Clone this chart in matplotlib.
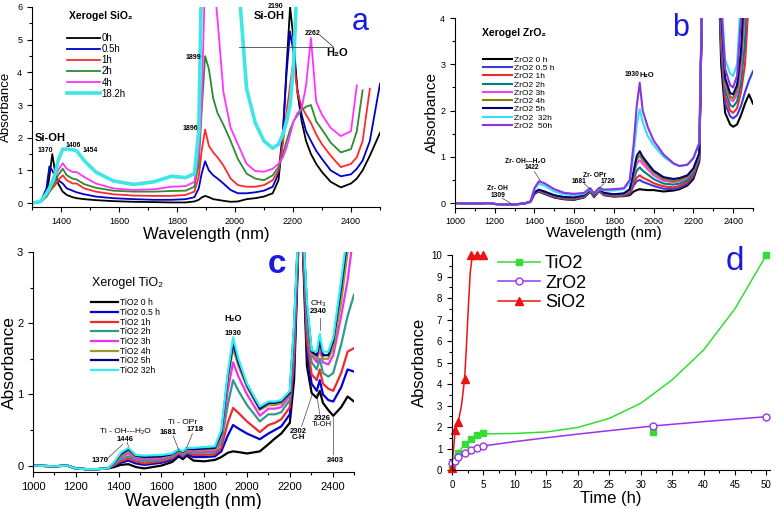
import numpy as np
import matplotlib
matplotlib.use('Agg')
import matplotlib.pyplot as plt
from matplotlib.ticker import MultipleLocator

plt.rcParams['font.family'] = ['Liberation Sans', 'DejaVu Sans']

nan = np.nan

# ---------------- (a) Xerogel SiO2 ----------------
wl_a = [1300, 1330, 1350, 1360, 1370, 1380, 1390, 1406, 1420, 1440, 1454,
        1480, 1520, 1580, 1650, 1720, 1780, 1830, 1860,
        1875, 1885, 1897, 1910, 1925, 1940, 1960, 1985,
        2010, 2040, 2070, 2100, 2130,
        2150, 2165, 2178, 2190, 2202, 2215, 2230, 2245, 2262,
        2280, 2300, 2330, 2365, 2400, 2420, 2440, 2465, 2500]
si_0h = [0.0, 0.03, 0.25, 0.8, 1.5, 0.95, 0.6, 0.35, 0.25, 0.18, 0.15,
         0.12, 0.09, 0.06, 0.04, 0.03, 0.02, 0.02, 0.05,
         0.1, 0.17, 0.22, 0.18, 0.12, 0.1, 0.07, 0.04,
         0.05, 0.12, 0.15, 0.2, 0.3,
         0.7, 2.0, 4.2, 6.0, 5.0, 3.4, 2.5, 1.9, 1.5,
         1.2, 0.95, 0.65, 0.48, 0.6, 0.75, 1.0, 1.45, 2.15]
si_05h = [0.0, 0.05, 0.45, 1.12, 1.0, 0.82, 0.7, 0.6, 0.45, 0.38, 0.33,
          0.27, 0.2, 0.15, 0.12, 0.1, 0.1, 0.12, 0.18,
          0.45, 0.9, 1.28, 1.0, 0.85, 0.75, 0.6, 0.4,
          0.3, 0.3, 0.33, 0.38, 0.5,
          0.9, 2.2, 4.0, 5.25, 4.6, 3.5, 2.7, 2.2, 1.9,
          1.6, 1.35, 1.0, 0.82, 0.88, 1.05, 1.3, 1.9, 3.65]
si_1h = [0.0, 0.04, 0.2, 0.35, 0.45, 0.55, 0.7, 0.85, 0.7, 0.6, 0.6,
         0.45, 0.35, 0.27, 0.23, 0.22, 0.22, 0.25, 0.35,
         0.8, 1.6, 2.25, 1.75, 1.55, 1.4, 1.15, 0.75,
         0.55, 0.5, 0.5, 0.55, 0.7,
         1.0, 1.8, 2.8, 3.6, 4.4, 3.4, 2.95, 2.7, 2.45,
         2.1, 1.8, 1.45, 1.1, 1.2, 1.4, 1.9, 3.5, nan]
si_2h = [0.0, 0.04, 0.2, 0.35, 0.5, 0.65, 0.85, 1.05, 0.85, 0.75, 0.72,
         0.58, 0.47, 0.38, 0.35, 0.35, 0.37, 0.38, 0.5,
         1.2, 2.8, 4.5, 4.1, 3.2, 2.75, 2.4, 1.9,
         1.35, 0.9, 0.75, 0.7, 0.85,
         1.1, 1.5, 1.9, 2.25, 2.5, 2.68, 2.85, 2.95, 3.0,
         2.5, 2.25, 1.85, 1.55, 1.65, 2.2, 3.45, nan, nan]
si_4h = [0.0, 0.04, 0.25, 0.45, 0.6, 0.8, 1.0, 1.22, 1.05, 0.95, 0.95,
         0.8, 0.6, 0.45, 0.4, 0.42, 0.5, 0.52, 0.65,
         1.5, 3.0, 7.0, 7.0, 7.0, 5.6, 3.4, 2.3,
         1.8, 1.2, 0.98, 0.96, 1.05,
         1.2, 1.4, 1.7, 2.1, 2.5, 2.75, 2.9, 3.6, 5.05,
         3.1, 2.7, 2.3, 2.05, 2.2, 3.6, nan, nan, nan]
si_18h = [0.0, 0.05, 0.3, 0.45, 0.65, 0.9, 1.3, 1.65, 1.65, 1.63, 1.6,
          1.3, 0.95, 0.68, 0.57, 0.65, 0.82, 0.78, 0.9,
          2.2, 7.0, 7.0, 7.0, 7.0, 7.0, 7.0, 7.0,
          7.0, 3.5, 2.45, 1.9, 1.68,
          1.8, 2.1, 2.5, 3.0, 4.2, 7.0, 7.0, 7.0, 7.0,
          7.0, 7.0, 7.0, 7.0, 7.0, 7.0, 7.0, 7.0, 7.0]
si_series = [si_0h, si_05h, si_1h, si_2h, si_4h, si_18h]
si_labels = ['0h', '0.5h', '1h', '2h', '4h', '18.2h']
si_colors = ['black', '#0000cc', '#ff2a2a', '#2e8b2e', '#ff33ff', '#3ee6e6']

# ---------------- (b) Xerogel ZrO2 ----------------
wl_b = [1000, 1100, 1170, 1200, 1250, 1300, 1350, 1380,
        1400, 1422, 1450, 1500, 1550, 1600, 1650, 1670, 1681, 1700,
        1726, 1750, 1800, 1850, 1880, 1900, 1915, 1930, 1945, 1970,
        2000, 2050, 2100, 2130, 2170, 2200, 2230,
        2250, 2320, 2340, 2360, 2385, 2400, 2420, 2440, 2460, 2480, 2500]
zr_base = [0.0, -0.01, 0.0, -0.02, -0.03, -0.03, -0.01, 0.03]
zr_0h = zr_base + [0.2, 0.25, 0.2, 0.12, 0.08, 0.07, 0.12, 0.2, 0.25, 0.13,
                   0.26, 0.17, 0.14, 0.15, 0.17, 0.25, 0.28, 0.3, 0.29, 0.28,
                   0.28, 0.25, 0.27, 0.3, 0.38, 0.52, 0.9,
                   6, 6, 3.0, 1.95, 1.7, 1.65, 1.7, 1.9, 2.15, 2.35, 2.15]
zr_05h = zr_base + [0.2, 0.26, 0.21, 0.13, 0.09, 0.08, 0.13, 0.21, 0.26, 0.14,
                    0.27, 0.18, 0.15, 0.16, 0.2, 0.38, 0.47, 0.5, 0.46, 0.42,
                    0.37, 0.31, 0.3, 0.33, 0.42, 0.58, 0.95,
                    6, 6, 3.3, 2.15, 1.88, 1.83, 1.9, 2.1, 2.4, 2.65, 2.85]
zr_1h = zr_base + [0.21, 0.27, 0.22, 0.14, 0.1, 0.09, 0.14, 0.22, 0.27, 0.15,
                   0.28, 0.19, 0.16, 0.17, 0.22, 0.43, 0.55, 0.6, 0.55, 0.5,
                   0.43, 0.36, 0.34, 0.37, 0.46, 0.62, 1.0,
                   6, 6, 3.5, 2.3, 2.0, 1.95, 2.05, 2.4, 3.0, 4.5, 6]
zr_2h = zr_base + [0.22, 0.27, 0.23, 0.15, 0.11, 0.1, 0.15, 0.23, 0.28, 0.16,
                   0.29, 0.2, 0.17, 0.18, 0.25, 0.52, 0.7, 0.77, 0.7, 0.62,
                   0.52, 0.42, 0.4, 0.42, 0.5, 0.66, 1.02,
                   6, 6, 3.7, 2.45, 2.12, 2.08, 2.2, 2.6, 3.5, 6, 6]
zr_3h = zr_base + [0.22, 0.28, 0.24, 0.16, 0.12, 0.11, 0.16, 0.24, 0.29, 0.17,
                   0.3, 0.21, 0.18, 0.19, 0.27, 0.6, 0.85, 0.93, 0.85, 0.73,
                   0.6, 0.48, 0.45, 0.47, 0.55, 0.7, 1.05,
                   6, 6, 3.9, 2.55, 2.25, 2.2, 2.35, 2.9, 4.2, 6, 6]
zr_4h = zr_base + [0.23, 0.28, 0.24, 0.16, 0.12, 0.11, 0.16, 0.24, 0.29, 0.17,
                   0.3, 0.21, 0.18, 0.2, 0.28, 0.65, 0.94, 1.03, 0.93, 0.8,
                   0.66, 0.52, 0.48, 0.5, 0.57, 0.72, 1.06,
                   6, 6, 4.0, 2.6, 2.3, 2.27, 2.45, 3.1, 4.5, 6, 6]
zr_5h = zr_base + [0.23, 0.29, 0.25, 0.17, 0.13, 0.12, 0.17, 0.25, 0.3, 0.18,
                   0.31, 0.22, 0.19, 0.21, 0.3, 0.7, 1.02, 1.12, 1.0, 0.86,
                   0.7, 0.56, 0.52, 0.54, 0.6, 0.75, 1.08,
                   6, 6, 4.1, 2.7, 2.38, 2.35, 2.55, 3.3, 5.0, 6, 6]
zr_32h = zr_base + [0.3, 0.42, 0.38, 0.25, 0.19, 0.17, 0.2, 0.27, 0.3, 0.2,
                    0.31, 0.27, 0.27, 0.3, 0.45, 1.1, 1.7, 2.03, 1.75, 1.45,
                    1.25, 1.0, 0.85, 0.8, 0.83, 0.97, 1.3,
                    6, 6, 4.5, 3.1, 2.8, 2.75, 3.0, 4.5, 6, 6, 6]
zr_50h = zr_base + [0.32, 0.47, 0.43, 0.3, 0.22, 0.2, 0.22, 0.29, 0.32, 0.21,
                    0.33, 0.29, 0.3, 0.32, 0.5, 1.3, 2.1, 2.6, 2.0, 1.65,
                    1.35, 1.05, 0.86, 0.8, 0.83, 0.97, 1.3,
                    6, 6, 4.3, 2.9, 2.55, 2.5, 2.75, 4.0, 6, 6, 6]
zr_series = [zr_0h, zr_05h, zr_1h, zr_2h, zr_3h, zr_4h, zr_5h, zr_32h, zr_50h]
zr_labels = ['ZrO2 0 h', 'ZrO2 0.5 h', 'ZrO2 1h', 'ZrO2 2h', 'ZrO2 3h',
             'ZrO2 4h', 'ZrO2 5h', 'ZrO2  32h', 'ZrO2  50h']
zr_colors = ['black', '#3a3ae0', '#ee2a2a', '#008080', '#ee44ee',
             '#808000', '#000080', '#33e0f0', '#8a35e0']

# ---------------- (c) Xerogel TiO2 ----------------
wl_c = [1000, 1100, 1160, 1200, 1250, 1300, 1350,
        1380, 1410, 1446,
        1480, 1520, 1600, 1650, 1681, 1700, 1718, 1750, 1800, 1850,
        1880, 1910, 1935, 1960, 2000, 2060, 2100, 2130, 2160, 2200,
        2220, 2250, 2280, 2302, 2326, 2340, 2355, 2380, 2403, 2440,
        2470, 2500]
ti_base = [0.0, -0.01, 0.0, -0.04, -0.05, -0.05, -0.04]
ti_0h = ti_base + [-0.02, 0.01, 0.02,
                   -0.02, -0.04, 0.0, 0.05, 0.13, 0.09, 0.14, 0.07, 0.06, 0.08,
                   0.12, 0.18, 0.2, 0.19, 0.17, 0.2, 0.3, 0.38, 0.45, 0.6,
                   1.2, 4, 1.4, 1.02, 0.95, 1.05, 0.88, 0.78, 0.7, 0.82,
                   0.97, 0.9]
ti_05h = ti_base + [0.0, 0.04, 0.07,
                    0.03, 0.01, 0.04, 0.08, 0.15, 0.11, 0.16, 0.12, 0.12, 0.13,
                    0.2, 0.42, 0.57, 0.52, 0.45, 0.37, 0.45, 0.5, 0.55, 0.72,
                    1.4, 4, 1.6, 1.15, 1.05, 1.2, 1.0, 0.92, 0.9, 1.1,
                    1.35, 1.32]
ti_1h = ti_base + [0.01, 0.06, 0.10,
                   0.06, 0.03, 0.06, 0.10, 0.17, 0.13, 0.18, 0.15, 0.15, 0.16,
                   0.25, 0.6, 0.81, 0.74, 0.62, 0.47, 0.57, 0.6, 0.65, 0.82,
                   1.5, 4, 1.75, 1.28, 1.2, 1.35, 1.15, 1.08, 1.05, 1.3,
                   1.6, 1.65]
ti_2h = ti_base + [0.02, 0.09, 0.13,
                   0.09, 0.06, 0.08, 0.12, 0.19, 0.15, 0.2, 0.18, 0.18, 0.19,
                   0.32, 0.85, 1.2, 1.05, 0.85, 0.62, 0.72, 0.72, 0.75, 0.92,
                   1.7, 4, 1.95, 1.45, 1.35, 1.5, 1.3, 1.25, 1.3, 1.7,
                   2.1, 2.4]
ti_3h = ti_base + [0.03, 0.12, 0.17,
                   0.11, 0.09, 0.1, 0.14, 0.2, 0.17, 0.22, 0.2, 0.2, 0.21,
                   0.38, 1.05, 1.45, 1.25, 1.0, 0.7, 0.8, 0.8, 0.82, 0.98,
                   1.8, 4, 2.1, 1.55, 1.45, 1.65, 1.45, 1.42, 1.55, 2.1,
                   2.6, 3.3]
ti_4h = ti_base + [0.03, 0.14, 0.2,
                   0.13, 0.11, 0.12, 0.15, 0.21, 0.18, 0.23, 0.22, 0.22, 0.23,
                   0.42, 1.2, 1.65, 1.4, 1.1, 0.78, 0.85, 0.85, 0.87, 1.0,
                   1.9, 4, 2.2, 1.58, 1.5, 1.7, 1.5, 1.5, 1.65, 2.3,
                   3.0, 3.6]
ti_5h = ti_base + [0.04, 0.16, 0.23,
                   0.14, 0.12, 0.13, 0.16, 0.22, 0.19, 0.24, 0.23, 0.24, 0.25,
                   0.45, 1.25, 1.72, 1.45, 1.13, 0.8, 0.88, 0.88, 0.9, 1.02,
                   1.95, 4, 2.25, 1.6, 1.55, 1.75, 1.55, 1.55, 1.75, 2.5,
                   3.2, 3.6]
ti_32h = ti_base + [0.05, 0.18, 0.25,
                    0.15, 0.14, 0.15, 0.17, 0.23, 0.2, 0.25, 0.25, 0.26, 0.27,
                    0.5, 1.3, 1.8, 1.5, 1.15, 0.83, 0.9, 0.9, 0.92, 1.05,
                    2.0, 4, 2.3, 1.62, 1.6, 1.85, 1.6, 1.6, 1.8, 2.6,
                    3.3, 3.6]
ti_series = [ti_0h, ti_05h, ti_1h, ti_2h, ti_3h, ti_4h, ti_5h, ti_32h]
ti_labels = ['TiO2 0 h', 'TiO2 0.5 h', 'TiO2 1h', 'TiO2 2h', 'TiO2 3h',
             'TiO2 4h', 'TiO2 5h', 'TiO2 32h']
ti_colors = ['black', '#0000dd', '#ee2a2a', '#339988', '#ee33ee',
             '#999933', '#000080', '#33eeee']

# ---------------- (d) absorbance vs time ----------------
t_h = [0, 0.5, 1, 2, 3, 4, 5, 32, 50]
ti_abs = [0.15, 0.55, 0.8, 1.19, 1.43, 1.63, 1.70, 1.77, 10.0]
zr_abs = [0.31, 0.43, 0.59, 0.78, 0.93, 1.04, 1.12, 2.05, 2.48]
si_t = [0, 0.5, 1, 2, 3, 4, 5]
si_abs = [0.1, 1.86, 2.25, 4.22, 10.0, 10.0, 10.0]
# fitted curves
ti_fit_t = [0, 0.5, 1, 2, 3, 4, 5, 10, 15, 20, 25, 30, 35, 40, 45, 50]
ti_fit = [0.15, 0.55, 0.8, 1.19, 1.43, 1.63, 1.68, 1.7, 1.77, 1.98, 2.4, 3.1, 4.19, 5.58, 7.5, 10.0]
zr_fit_t = [0, 0.5, 1, 2, 3, 4, 5, 10, 15, 20, 25, 32, 40, 50]
zr_fit = [0.31, 0.43, 0.59, 0.78, 0.93, 1.04, 1.12, 1.32, 1.5, 1.67, 1.83, 2.05, 2.25, 2.48]
si_fit_t = [0, 0.5, 1, 1.5, 2, 2.3, 2.6, 2.9, 3.2, 3.5, 4, 5]
si_fit = [0.1, 1.86, 2.25, 3.0, 4.22, 5.8, 7.6, 9.2, 9.9, 10.0, 10.0, 10.0]

letter_color = '#1a1adf'


def style_axes(ax, fs):
    ax.spines['top'].set_visible(False)
    ax.spines['right'].set_visible(False)
    ax.tick_params(which='both', direction='out', labelsize=fs, width=0.8)
    ax.tick_params(which='major', length=3.5)
    ax.tick_params(which='minor', length=2)


fig = plt.figure(figsize=(7.76, 5.09), dpi=100)

# ---- a ----
ax = fig.add_axes([0.0412, 0.5933, 0.4485, 0.393])
for y, c, lab in zip(si_series, si_colors, si_labels):
    lw = 2.6 if lab == '18.2h' else 1.3
    ax.plot(wl_a, y, color=c, lw=lw, label=lab)
ax.set_xlim(1300, 2500)
ax.set_ylim(-0.12, 6)
ax.xaxis.set_major_locator(MultipleLocator(200))
ax.xaxis.set_minor_locator(MultipleLocator(100))
ax.yaxis.set_major_locator(MultipleLocator(1))
ax.yaxis.set_minor_locator(MultipleLocator(0.5))
style_axes(ax, 6.5)
ax.set_xlabel('Wavelength (nm)', fontsize=12, labelpad=1)
ax.set_ylabel('Absorbance', fontsize=9.5, labelpad=4)
ax.legend(loc='upper left', bbox_to_anchor=(0.1, 0.87), frameon=False, fontsize=7,
          handlelength=3.4, labelspacing=0.12, handletextpad=0.2, borderpad=0, borderaxespad=0)
ax.text(0.105, 0.955, 'Xerogel SiO₂', transform=ax.transAxes, fontsize=7.5,
        fontweight='bold', va='center')
ax.text(1308, 2.0, 'Si-OH', fontsize=8, fontweight='bold', va='center')
ax.text(1345, 1.62, '1370', fontsize=5, fontweight='bold', ha='center', va='center')
ax.text(1441, 1.75, '1406', fontsize=5, fontweight='bold', ha='center', va='center')
ax.text(1500, 1.62, '1454', fontsize=5, fontweight='bold', ha='center', va='center')
ax.text(1855, 4.45, '1899', fontsize=5, fontweight='bold', ha='center', va='center')
ax.text(1845, 2.28, '1896', fontsize=5, fontweight='bold', ha='center', va='center')
ax.text(2141, 6.0, '2190', fontsize=5, fontweight='bold', ha='center', va='center')
ax.text(2117, 5.72, 'Si-OH', fontsize=8, fontweight='bold', ha='center', va='center')
ax.text(2269, 5.2, '2262', fontsize=5, fontweight='bold', ha='center', va='center')
ax.text(2352, 4.58, 'H₂O', fontsize=8, fontweight='bold', ha='center', va='center')
ax.plot([2013, 2339], [4.78, 4.78], color='#444444', lw=0.6)
ax.plot([2293, 2339], [5.14, 4.78], color='#444444', lw=0.6)
ax.text(2431, 5.55, 'a', fontsize=22, color=letter_color, ha='center', va='center')

# ---- b ----
ax = fig.add_axes([0.5863, 0.592, 0.384, 0.3725])
for y, c, lab in zip(zr_series, zr_colors, zr_labels):
    ax.plot(wl_b, y, color=c, lw=1.5, label=lab)
ax.set_xlim(1000, 2500)
ax.set_ylim(-0.1, 4)
ax.xaxis.set_major_locator(MultipleLocator(200))
ax.xaxis.set_minor_locator(MultipleLocator(100))
ax.yaxis.set_major_locator(MultipleLocator(1))
ax.yaxis.set_minor_locator(MultipleLocator(0.5))
style_axes(ax, 6.5)
ax.set_xlabel('Wavelength (nm)', fontsize=11, labelpad=0)
ax.set_ylabel('Absorbance', fontsize=11, labelpad=1)
ax.legend(loc='upper left', bbox_to_anchor=(0.095, 0.8), frameon=False, fontsize=6,
          handlelength=3.5, labelspacing=0.05, handletextpad=0.2, borderpad=0, borderaxespad=0)
ax.text(0.09, 0.92, 'Xerogel ZrO₂', transform=ax.transAxes, fontsize=7.5,
        fontweight='bold', va='center')
ax.text(1216, 0.32, 'Zr- OH', fontsize=4.8, fontweight='bold', ha='center', va='center')
ax.text(1216, 0.17, '1309', fontsize=4.8, fontweight='bold', ha='center', va='center')
ax.plot([1240, 1290], [0.1, -0.03], color='#444444', lw=0.5)
ax.text(1352, 0.89, 'Zr- OH---H₂O', fontsize=4.8, fontweight='bold', ha='center', va='center')
ax.text(1386, 0.76, '1422', fontsize=4.8, fontweight='bold', ha='center', va='center')
ax.plot([1400, 1430], [0.68, 0.48], color='#444444', lw=0.5)
ax.text(1705, 0.6, 'Zr- OPr', fontsize=4.8, fontweight='bold', ha='center', va='center')
ax.text(1625, 0.46, '1681', fontsize=4.8, fontweight='bold', ha='center', va='center')
ax.plot([1650, 1681], [0.42, 0.3], color='#444444', lw=0.5)
ax.text(1772, 0.46, '1726', fontsize=4.8, fontweight='bold', ha='center', va='center')
ax.plot([1750, 1726], [0.42, 0.32], color='#444444', lw=0.5)
ax.text(1890, 2.77, '1930', fontsize=4.8, fontweight='bold', ha='center', va='center')
ax.text(1965, 2.75, 'H₂O', fontsize=5.5, fontweight='bold', ha='center', va='center')
ax.text(2133, 3.78, 'b', fontsize=22, color=letter_color, ha='center', va='center')

# ---- c ----
ax = fig.add_axes([0.0425, 0.0727, 0.4137, 0.4322])
for y, c, lab in zip(ti_series, ti_colors, ti_labels):
    ax.plot(wl_c, y, color=c, lw=1.6, label=lab)
ax.set_xlim(1000, 2500)
ax.set_ylim(-0.09, 3)
ax.xaxis.set_major_locator(MultipleLocator(200))
ax.xaxis.set_minor_locator(MultipleLocator(100))
ax.yaxis.set_major_locator(MultipleLocator(1))
ax.yaxis.set_minor_locator(MultipleLocator(0.5))
style_axes(ax, 8)
ax.set_xlabel('Wavelength (nm)', fontsize=13, labelpad=1)
ax.set_ylabel('Absorbance', fontsize=12.5, labelpad=0)
ax.legend(loc='upper left', bbox_to_anchor=(0.18, 0.79), frameon=False, fontsize=6.2,
          handlelength=3.2, labelspacing=0.08, handletextpad=0.2, borderpad=0, borderaxespad=0)
ax.text(0.184, 0.86, 'Xerogel TiO₂', transform=ax.transAxes, fontsize=9, va='center')
ax.text(1936, 2.07, 'H₂O', fontsize=6.5, fontweight='bold', ha='center', va='center')
ax.text(1936, 1.86, '1930', fontsize=5.5, fontweight='bold', ha='center', va='center')
ax.text(1430, 0.48, 'Ti - OH---H₂O', fontsize=6, ha='center', va='center')
ax.text(1430, 0.37, '1446', fontsize=5.5, fontweight='bold', ha='center', va='center')
ax.plot([1440, 1446], [0.33, 0.27], color='#444444', lw=0.5)
ax.text(1313, 0.07, '1370', fontsize=5.5, fontweight='bold', ha='center', va='center')
ax.plot([1345, 1420], [0.09, 0.3], color='#444444', lw=0.5)
ax.text(1700, 0.6, 'Ti - OPr', fontsize=6, ha='center', va='center')
ax.text(1632, 0.47, '1681', fontsize=5.5, fontweight='bold', ha='center', va='center')
ax.plot([1655, 1681], [0.42, 0.22], color='#444444', lw=0.5)
ax.text(1757, 0.5, '1718', fontsize=5.5, fontweight='bold', ha='center', va='center')
ax.plot([1745, 1718], [0.45, 0.25], color='#444444', lw=0.5)
ax.text(2332, 2.28, 'CH₃', fontsize=6, ha='center', va='center')
ax.text(2332, 2.16, '2340', fontsize=5.5, fontweight='bold', ha='center', va='center')
ax.plot([2340, 2340], [2.08, 1.9], color='#444444', lw=0.5)
ax.text(2240, 0.48, '2302', fontsize=5.5, fontweight='bold', ha='center', va='center')
ax.text(2240, 0.39, 'C-H', fontsize=5.5, fontweight='bold', ha='center', va='center')
ax.plot([2255, 2305], [0.55, 1.0], color='#444444', lw=0.5)
ax.text(2350, 0.66, '2326', fontsize=5.5, fontweight='bold', ha='center', va='center')
ax.text(2350, 0.58, 'Ti-OH', fontsize=5.5, ha='center', va='center')
ax.plot([2340, 2326], [0.72, 1.0], color='#444444', lw=0.5)
ax.text(2411, 0.07, '2403', fontsize=5.5, fontweight='bold', ha='center', va='center')
ax.plot([2405, 2403], [0.15, 0.68], color='#444444', lw=0.5)
ax.text(2140, 2.82, 'c', fontsize=24, color=letter_color, fontweight='bold', ha='center', va='center')

# ---- d ----
ax = fig.add_axes([0.5825, 0.0766, 0.41, 0.4224])
ax.plot(ti_fit_t, ti_fit, color='#33dd33', lw=1.1)
ax.plot(zr_fit_t, zr_fit, color='#9933ee', lw=1.1)
ax.plot(si_fit_t, si_fit, color='#ee1111', lw=1.1)
ax.plot(t_h, ti_abs, ls='none', marker='s', ms=4.5, color='#33dd33', clip_on=False)
ax.plot(t_h, zr_abs, ls='none', marker='o', ms=5, mfc='white', mec='#9933ee', clip_on=False)
ax.plot(si_t, si_abs, ls='none', marker='^', ms=5.5, color='#ee1111', clip_on=False)
h1, = ax.plot([], [], color='#33dd33', marker='s', ms=4.5, lw=1.1)
h2, = ax.plot([], [], color='#9933ee', marker='o', ms=5, mfc='white', lw=1.1)
h3, = ax.plot([], [], color='#ee1111', marker='^', ms=5.5, lw=1.1)
ax.legend([h1, h2, h3], ['TiO2', 'ZrO2', 'SiO2'], loc='upper left', bbox_to_anchor=(0.145, 1.0),
          frameon=False, fontsize=13, handlelength=2.3, labelspacing=0.15, handletextpad=0.3,
          borderpad=0, borderaxespad=0)
ax.set_xlim(0, 50.6)
ax.set_ylim(0, 10)
ax.xaxis.set_major_locator(MultipleLocator(5))
ax.xaxis.set_minor_locator(MultipleLocator(2.5))
ax.yaxis.set_major_locator(MultipleLocator(1))
ax.yaxis.set_minor_locator(MultipleLocator(0.5))
style_axes(ax, 7)
ax.set_xlabel('Time (h)', fontsize=12, labelpad=1)
ax.set_ylabel('Absorbance', fontsize=12, labelpad=3)
ax.text(45, 9.7, 'd', fontsize=24, color=letter_color, ha='center', va='center')

fig.savefig('out.png', dpi=100)
